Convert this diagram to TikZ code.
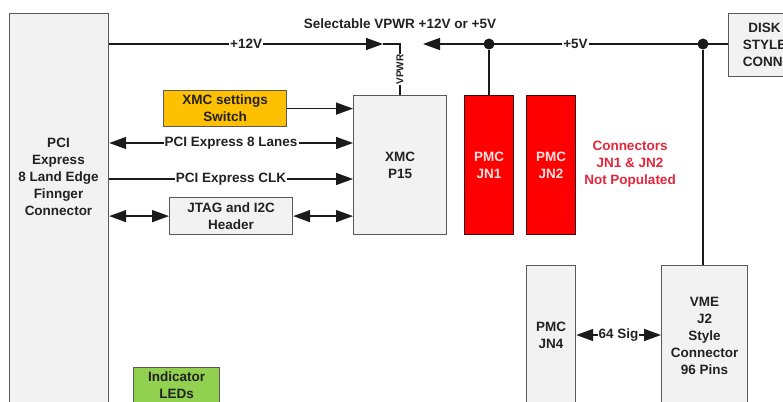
\documentclass[tikz,border=0pt]{standalone}
\usepackage{fontspec}
\setmainfont{Liberation Sans}
\usetikzlibrary{arrows.meta}
\definecolor{boxfill}{HTML}{F2F2F2}
\definecolor{boxline}{HTML}{5A5A5A}
\definecolor{wirec}{HTML}{1A1A1A}
\definecolor{textc}{HTML}{222222}
\definecolor{orangefill}{HTML}{FFC000}
\definecolor{greenfill}{HTML}{92D050}
\definecolor{redfill}{HTML}{FF0000}
\definecolor{redline}{HTML}{3A0A0A}
\definecolor{redtext}{HTML}{E3263A}
\definecolor{pinktext}{HTML}{FFE2E2}
\begin{document}
\begin{tikzpicture}[x=1pt,y=-1pt,
  box/.style={draw=boxline, line width=1.2pt, fill=boxfill, inner sep=0pt, anchor=north west,
    font=\fontsize{13.5}{17}\selectfont\bfseries, align=center, text=textc},
  redbox/.style={box, fill=redfill, draw=redline, text=pinktext},
  txt/.style={font=\fontsize{13.5}{17}\selectfont\bfseries, align=center, text=textc},
  wire/.style={line width=1.5pt, draw=wirec},
  tip/.style={-{Triangle[length=17pt,width=12pt]}},
  dtip/.style={{Triangle[length=17pt,width=12pt]}-{Triangle[length=17pt,width=12pt]}},
  lab/.style={txt, fill=white, inner sep=1pt},
  dot/.style={circle, fill=wirec, inner sep=0pt, minimum size=11pt}
]
\useasboundingbox (0,0) rectangle (783,401);
\clip (0,0) rectangle (783,401);

% boxes
\node[box, minimum width=99pt, minimum height=420pt] (pci) at (9,13) {};
\node[txt] (pcitxt) at (58.5,177) {PCI\\Express\\8 Land Edge\\Finnger\\Connector};
\node[box, minimum width=72pt, minimum height=63pt] (disk) at (728,13) {DISK\\STYLE\\CONN.};
\node[box, fill=orangefill, minimum width=123pt, minimum height=36pt] (xmcsw) at (163,90) {XMC settings\\Switch};
\node[box, minimum width=93pt, minimum height=139pt] (xmc) at (353,95) {XMC\\P15};
\node[box, minimum width=123pt, minimum height=37pt] (jtag) at (169,197) {JTAG and I2C\\Header};
\node[redbox, minimum width=49pt, minimum height=139pt] (jn1) at (464,95) {PMC\\JN1};
\node[redbox, minimum width=49pt, minimum height=139pt] (jn2) at (526,95) {PMC\\JN2};
\node[box, minimum width=49pt, minimum height=140pt] (jn4) at (526,265) {PMC\\JN4};
\node[box, minimum width=86pt, minimum height=140pt] (vme) at (661,265) {VME\\J2\\Style\\Connector\\96 Pins};
\node[box, fill=greenfill, minimum width=86pt, minimum height=36pt] (leds) at (133,367) {Indicator\\LEDs};

\node[txt] (sel) at (400,24) {Selectable VPWR +12V or +5V};
\node[txt, text=redtext] (nc) at (630,164) {Connectors\\JN1 \& JN2\\Not Populated};

% coordinates
\coordinate (v12) at (383,44);
\coordinate (v5) at (423,44);
\coordinate (vp) at (400,44);
\coordinate (ya) at (0,143);
\coordinate (yb) at (0,179);
\coordinate (yd) at (0,335);
\node[dot] (d1) at (489,44) {};
\node[dot] (d2) at (703,44) {};

% power
\draw[wire,tip] (pci.east|-v12) -- node[lab]{+12V} (v12);
\draw[wire,tip] (disk.west|-v5) -- node[lab, pos=0.5]{+5V} (v5);
\draw[wire] (v12) -- (vp) -- node[fill=white, inner sep=0.5pt, rotate=90, font=\fontsize{10}{11}\selectfont\bfseries, text=textc]{VPWR} (vp|-xmc.north);
\draw[wire] (d1) -- (d1|-jn1.north);
\draw[wire] (d2) -- (d2|-vme.north);

% signals
\draw[wire,tip] (xmcsw.east) -- (xmcsw.east-|xmc.west);
\draw[wire,dtip] (pci.east|-ya) -- node[lab]{PCI Express 8 Lanes} (xmc.west|-ya);
\draw[wire,tip] (pci.east|-yb) -- node[lab]{PCI Express CLK} (xmc.west|-yb);
\draw[wire,dtip] (pci.east|-jtag.west) -- (jtag.west);
\draw[wire,dtip] (jtag.east) -- (jtag.east-|xmc.west);
\draw[wire,dtip] (jn4.east|-yd) -- node[lab]{64 Sig} (vme.west|-yd);
\end{tikzpicture}
\end{document}
